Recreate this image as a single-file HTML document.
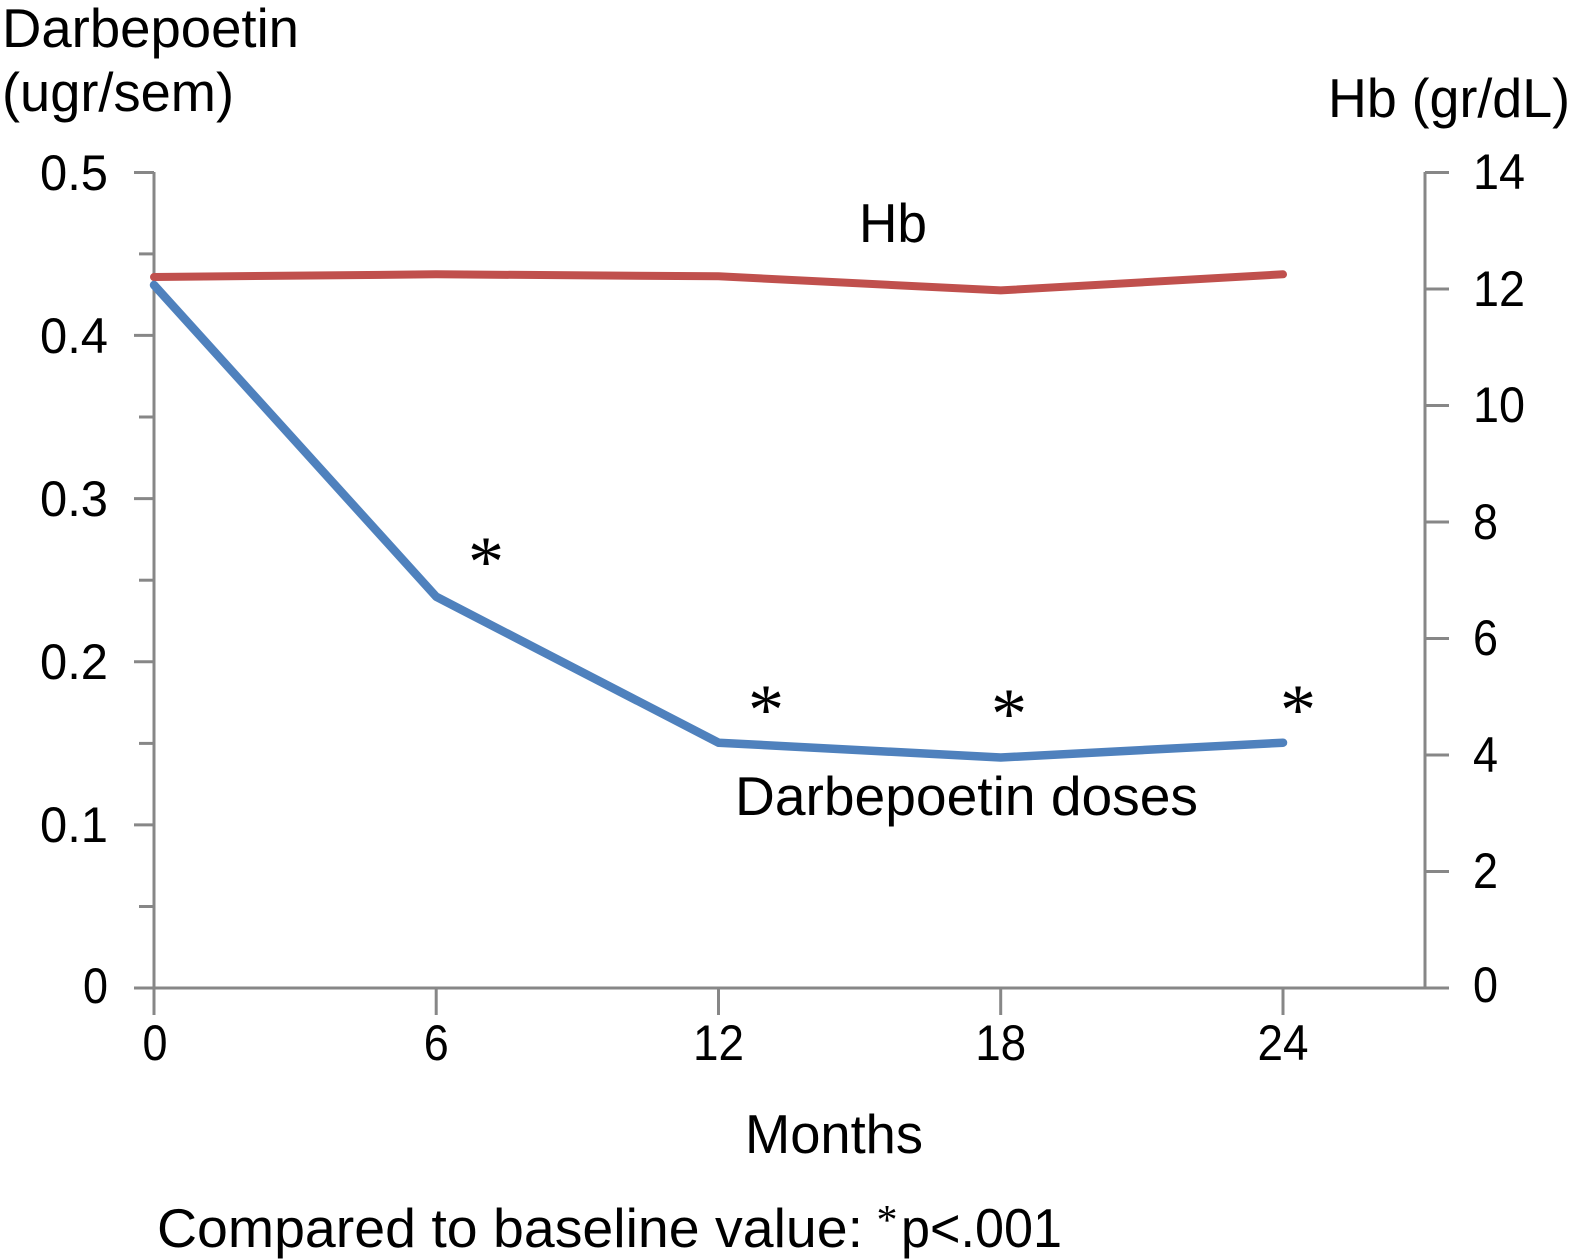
<!DOCTYPE html>
<html>
<head>
<meta charset="utf-8">
<style>
html,body{margin:0;padding:0;background:#fff;}
svg{display:block;}
text{font-family:"Liberation Sans",Arial,sans-serif;fill:#000;}
.s{font-family:"Liberation Serif","Times New Roman",serif;}
</style>
</head>
<body>
<svg width="1576" height="1259" viewBox="0 0 1576 1259" xmlns="http://www.w3.org/2000/svg">
<rect width="1576" height="1259" fill="#fff"/>
<!-- axis titles -->
<text x="2" y="47" font-size="55" textLength="297" lengthAdjust="spacingAndGlyphs">Darbepoetin</text>
<text x="2" y="111" font-size="55" textLength="232" lengthAdjust="spacingAndGlyphs">(ugr/sem)</text>
<text x="1328" y="117" font-size="55" textLength="242" lengthAdjust="spacingAndGlyphs">Hb (gr/dL)</text>

<!-- axes -->
<g stroke="#878787" stroke-width="3" fill="none">
  <line x1="154" y1="172" x2="154" y2="1015"/>
  <line x1="134" y1="988" x2="1449" y2="988"/>
  <line x1="1425" y1="172" x2="1425" y2="988"/>
  <line x1="134" y1="172.5" x2="154" y2="172.5"/>
  <line x1="134" y1="335.4" x2="154" y2="335.4"/>
  <line x1="134" y1="498.6" x2="154" y2="498.6"/>
  <line x1="134" y1="661.8" x2="154" y2="661.8"/>
  <line x1="134" y1="824.9" x2="154" y2="824.9"/>
  <line x1="139" y1="253.9" x2="154" y2="253.9"/>
  <line x1="139" y1="417" x2="154" y2="417"/>
  <line x1="139" y1="580.2" x2="154" y2="580.2"/>
  <line x1="139" y1="743.4" x2="154" y2="743.4"/>
  <line x1="139" y1="906.5" x2="154" y2="906.5"/>
  <line x1="1425" y1="172.5" x2="1449" y2="172.5"/>
  <line x1="1425" y1="289" x2="1449" y2="289"/>
  <line x1="1425" y1="405.5" x2="1449" y2="405.5"/>
  <line x1="1425" y1="522" x2="1449" y2="522"/>
  <line x1="1425" y1="638.5" x2="1449" y2="638.5"/>
  <line x1="1425" y1="755" x2="1449" y2="755"/>
  <line x1="1425" y1="871.5" x2="1449" y2="871.5"/>
  <line x1="436.2" y1="988" x2="436.2" y2="1015"/>
  <line x1="718.5" y1="988" x2="718.5" y2="1015"/>
  <line x1="1000.7" y1="988" x2="1000.7" y2="1015"/>
  <line x1="1283" y1="988" x2="1283" y2="1015"/>
</g>

<!-- left tick labels -->
<g font-size="50" text-anchor="end">
  <text x="108" y="190" textLength="68" lengthAdjust="spacingAndGlyphs">0.5</text>
  <text x="108" y="353" textLength="68" lengthAdjust="spacingAndGlyphs">0.4</text>
  <text x="108" y="516" textLength="68" lengthAdjust="spacingAndGlyphs">0.3</text>
  <text x="108" y="679" textLength="68" lengthAdjust="spacingAndGlyphs">0.2</text>
  <text x="108" y="842" textLength="68" lengthAdjust="spacingAndGlyphs">0.1</text>
  <text x="108" y="1003" textLength="25" lengthAdjust="spacingAndGlyphs">0</text>
</g>
<!-- right tick labels -->
<g font-size="50">
  <text x="1473" y="189" textLength="52" lengthAdjust="spacingAndGlyphs">14</text>
  <text x="1473" y="306" textLength="52" lengthAdjust="spacingAndGlyphs">12</text>
  <text x="1473" y="422" textLength="52" lengthAdjust="spacingAndGlyphs">10</text>
  <text x="1473" y="539" textLength="25" lengthAdjust="spacingAndGlyphs">8</text>
  <text x="1473" y="655" textLength="25" lengthAdjust="spacingAndGlyphs">6</text>
  <text x="1473" y="772" textLength="25" lengthAdjust="spacingAndGlyphs">4</text>
  <text x="1473" y="888" textLength="25" lengthAdjust="spacingAndGlyphs">2</text>
  <text x="1473" y="1002" textLength="25" lengthAdjust="spacingAndGlyphs">0</text>
</g>
<!-- x tick labels -->
<g font-size="50" text-anchor="middle">
  <text x="155" y="1060" textLength="25" lengthAdjust="spacingAndGlyphs">0</text>
  <text x="436.2" y="1060" textLength="25" lengthAdjust="spacingAndGlyphs">6</text>
  <text x="718.5" y="1060" textLength="51" lengthAdjust="spacingAndGlyphs">12</text>
  <text x="1000.7" y="1060" textLength="51" lengthAdjust="spacingAndGlyphs">18</text>
  <text x="1283" y="1060" textLength="51" lengthAdjust="spacingAndGlyphs">24</text>
</g>

<!-- series -->
<polyline points="154,277 436.2,274.3 718.5,276.3 1000.7,290.4 1283,274.3" fill="none" stroke="#c0504d" stroke-width="8" stroke-linecap="round" stroke-linejoin="round"/>
<polyline points="154,285 436.2,596.7 718.5,742.7 1000.7,757.5 1283,742.7" fill="none" stroke="#4f81bd" stroke-width="8.5" stroke-linecap="round" stroke-linejoin="round"/>

<!-- series labels -->
<text x="859" y="242" font-size="55" textLength="68" lengthAdjust="spacingAndGlyphs">Hb</text>
<text x="735" y="815" font-size="55" textLength="463" lengthAdjust="spacingAndGlyphs">Darbepoetin doses</text>

<!-- asterisks -->
<g text-anchor="middle" font-size="72">
  <text class="s" x="486" y="586">*</text>
  <text class="s" x="766" y="734">*</text>
  <text class="s" x="1009" y="738">*</text>
  <text class="s" x="1298" y="734">*</text>
</g>

<!-- x axis title -->
<text x="745" y="1153" font-size="55" textLength="178" lengthAdjust="spacingAndGlyphs">Months</text>

<!-- footer -->
<text x="157" y="1247" font-size="55" textLength="706" lengthAdjust="spacingAndGlyphs">Compared to baseline value:</text>
<text class="s" x="887" y="1234" font-size="42" text-anchor="middle">*</text>
<text x="901" y="1247" font-size="55" textLength="161" lengthAdjust="spacingAndGlyphs">p&lt;.001</text>
</svg>
</body>
</html>
